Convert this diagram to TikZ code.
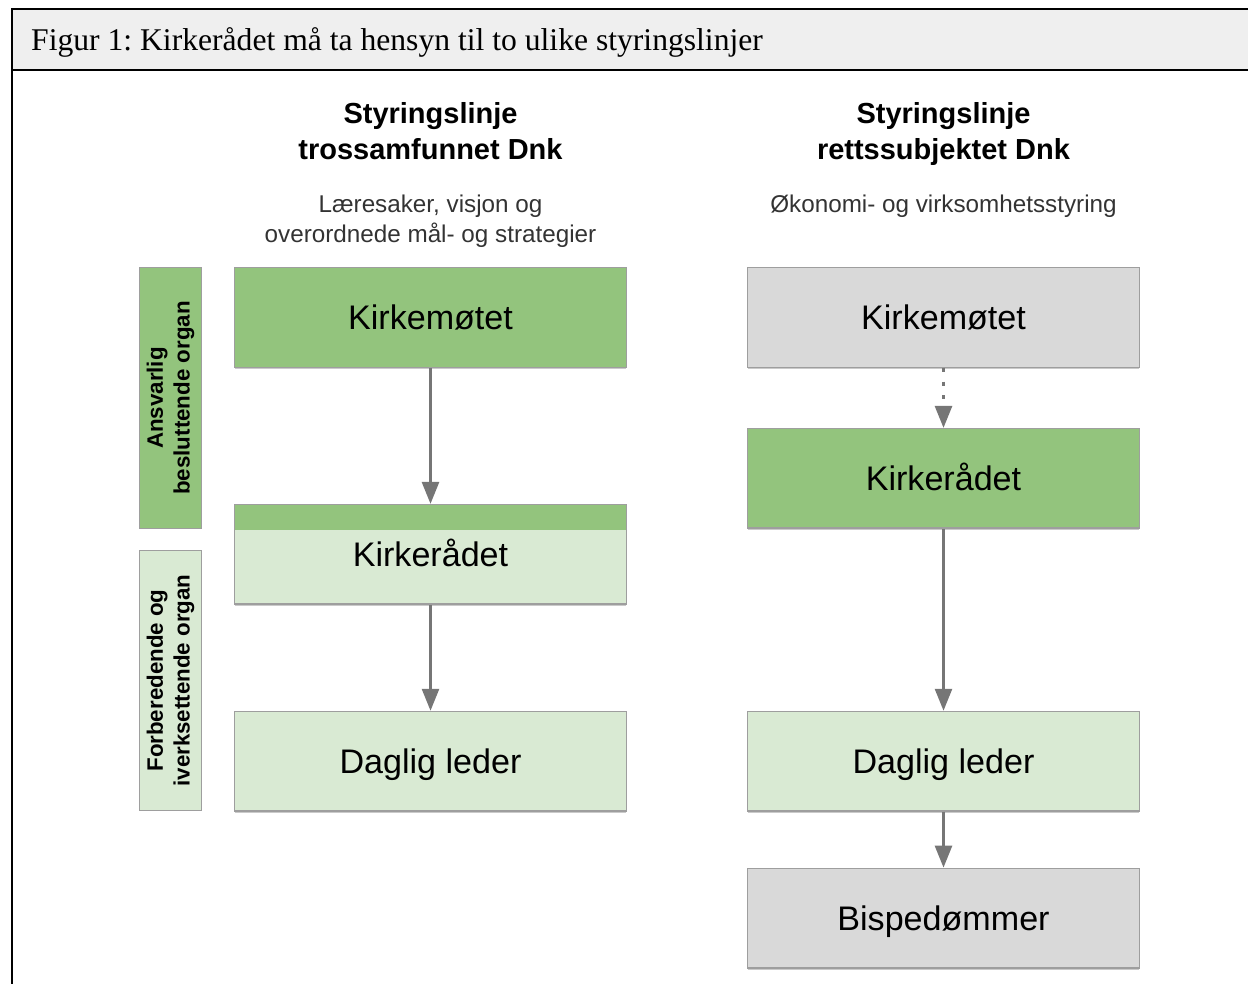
\documentclass[tikz,border=0pt]{standalone}
\usepackage{fontspec}
\setmainfont{Liberation Serif}
\setsansfont{Liberation Sans}
\usetikzlibrary{positioning, arrows.meta, shadows}

\definecolor{dnkgreen}{HTML}{93C47D}
\definecolor{dnklight}{HTML}{D9EAD3}
\definecolor{dnkgray}{HTML}{D9D9D9}
\definecolor{dnkedge}{HTML}{9E9E9E}
\definecolor{dnkarrow}{HTML}{767676}
\definecolor{titlebg}{HTML}{EFEFEF}

\begin{document}
\frenchspacing
\begin{tikzpicture}[
    x=0.02cm, y=-0.02cm,
    >={Triangle[length=12.5pt, width=9.6pt]},
    org/.style={
        rectangle, minimum width=7.83cm, minimum height=1.99cm,
        draw=dnkedge, line width=0.8pt, inner sep=0pt,
        text height=14pt, text depth=0pt,
        font=\sffamily\fontsize{19.4}{22}\selectfont,
        drop shadow={shadow xshift=0pt, shadow yshift=-1.2pt, opacity=0.35, fill=black!60}
    },
    side/.style={
        rectangle, rotate=90, minimum width=5.21cm, minimum height=1.23cm,
        draw=dnkedge, line width=0.8pt, align=center, inner sep=0pt,
        font=\sffamily\bfseries\fontsize{12.7}{15.2}\selectfont
    },
    head/.style={anchor=north, align=center, font=\sffamily\bfseries\fontsize{16.5}{20.4}\selectfont},
    sub/.style={align=center, text=black!80, font=\sffamily\fontsize{13.8}{17}\selectfont},
    strip/.style={path picture={
        \fill[dnkgreen] (path picture bounding box.north west)
            rectangle ([yshift=-0.5cm]path picture bounding box.north east);}},
    arr/.style={->, draw=dnkarrow, line width=1.7pt},
]
\useasboundingbox (0,0) rectangle (1248,984);

% Frame and title bar
\fill[titlebg] (12,9) rectangle (1260,70);
\draw[black, line width=1.7pt] (1260,9) -- (12,9) -- (12,1000);
\draw[black, line width=1.7pt] (12,70) -- (1260,70);
\node[anchor=west, font=\fontsize{18}{22}\selectfont] (title) at (25,42)
    {Figur 1: Kirkerådet må ta hensyn til to ulike styringslinjer};

% Column headers
\node[head] (hL) at (430.5,96) {Styringslinje\\trossamfunnet Dnk};
\node[sub] (sL) at (430.5,221) {Læresaker, visjon og\\overordnede mål- og strategier};
\node[head] (hR) at (943.5,96) {Styringslinje\\rettssubjektet Dnk};
\node[sub] (sR) at (943.5,206) {Økonomi- og virksomhetsstyring};

% Side labels
\node[side, fill=dnkgreen] (ansv) at (170.5,398) {Ansvarlig\\besluttende organ};
\node[side, fill=dnklight] (forb) at (170.5,680.5) {Forberedende og\\iverksettende organ};

% Left column
\node[org, fill=dnkgreen] (kmL) at (430.5,317.5) {Kirkemøtet};
\node[org, fill=dnklight, strip, below=2.72cm of kmL] (krL) {Kirkerådet};
\node[org, fill=dnklight, below=2.12cm of krL] (dlL) {Daglig leder};

% Right column
\node[org, fill=dnkgray] (kmR) at (943.5,317.5) {Kirkemøtet};
\node[org, fill=dnkgreen, below=1.2cm of kmR] (krR) {Kirkerådet};
\node[org, fill=dnklight, below=3.64cm of krR] (dlR) {Daglig leder};
\node[org, fill=dnkgray, below=1.12cm of dlR] (bisp) {Bispedømmer};

% Connectors
\draw[arr] (kmL) -- (krL);
\draw[arr] (krL) -- (dlL);
\draw[arr, dash pattern=on 2.2pt off 5.6pt] (kmR) -- (krR);
\draw[arr] (krR) -- (dlR);
\draw[arr] (dlR) -- (bisp);

\end{tikzpicture}
\end{document}
